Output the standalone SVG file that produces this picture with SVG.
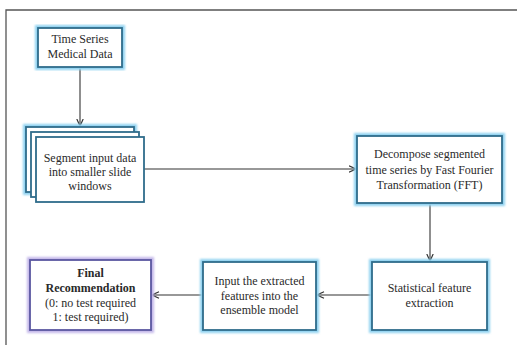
<svg xmlns="http://www.w3.org/2000/svg" width="517" height="345" viewBox="0 0 517 345">
<defs>
<style>
.glow{fill:none;stroke:#8fd2f0;stroke-width:6;filter:url(#soft);}
.glowp{fill:none;stroke:#c4b8ea;stroke-width:6;filter:url(#soft);}
.box{fill:#ffffff;stroke:#2f6c8b;stroke-width:1.8;}
.boxp{fill:#ffffff;stroke:#5a57a0;stroke-width:1.8;}
.t{font-family:"Liberation Serif","Times New Roman","DejaVu Serif",serif;font-size:12px;fill:#2a2a2a;text-anchor:middle;}
.b{font-weight:bold;}
.c{fill:none;stroke:#333;stroke-width:1.1;}
</style>
<filter id="soft" x="-10%" y="-10%" width="120%" height="120%">
<feGaussianBlur stdDeviation="0.9"/>
</filter>
<marker id="ah" viewBox="0 0 8 8" refX="7.5" refY="4" markerWidth="8" markerHeight="8" markerUnits="userSpaceOnUse" orient="auto">
<path d="M0.5,0.8 L7.5,4 L0.5,7.2" fill="none" stroke="#333" stroke-width="1.2"/>
</marker>
</defs>
<rect width="517" height="345" fill="#ffffff"/>
<path d="M6,345 V10 H517" fill="none" stroke="#555" stroke-width="1.3"/>

<g id="connectors">
<line class="c" x1="80" y1="67" x2="80" y2="126" marker-end="url(#ah)"/>
<line class="c" x1="144" y1="169" x2="356" y2="169" marker-end="url(#ah)"/>
<line class="c" x1="430" y1="203" x2="430" y2="261" marker-end="url(#ah)"/>
<line class="c" x1="372" y1="295" x2="317" y2="295" marker-end="url(#ah)"/>
<line class="c" x1="203" y1="295" x2="152" y2="295" marker-end="url(#ah)"/>
</g>

<g id="n-timeseries">
<rect class="glow" x="38" y="28" width="84" height="39"/>
<rect class="box" x="38" y="28" width="84" height="39"/>
<text class="t" x="80" y="43">Time Series</text>
<text class="t" x="80" y="58">Medical Data</text>
</g>

<g id="n-segment">
<rect class="glow" x="26" y="127" width="108" height="65"/>
<rect class="box" x="26" y="127" width="108" height="65"/>
<rect class="box" x="31" y="132" width="108" height="65"/>
<rect class="box" x="36" y="137" width="108" height="65"/>
<text class="t" x="90" y="162">Segment input data</text>
<text class="t" x="90" y="176">into smaller slide</text>
<text class="t" x="90" y="190">windows</text>
</g>

<g id="n-fft">
<rect class="glow" x="357" y="136" width="145" height="67"/>
<rect class="box" x="357" y="136" width="145" height="67"/>
<text class="t" x="429.5" y="158">Decompose segmented</text>
<text class="t" x="429.5" y="174">time series by Fast Fourier</text>
<text class="t" x="429.5" y="189">Transformation (FFT)</text>
</g>

<g id="n-stat">
<rect class="glow" x="372" y="262" width="115" height="68"/>
<rect class="box" x="372" y="262" width="115" height="68"/>
<text class="t" x="429.5" y="292">Statistical feature</text>
<text class="t" x="429.5" y="307">extraction</text>
</g>

<g id="n-input">
<rect class="glow" x="203" y="262" width="113" height="68"/>
<rect class="box" x="203" y="262" width="113" height="68"/>
<text class="t" x="259.5" y="285">Input the extracted</text>
<text class="t" x="259.5" y="300">features into the</text>
<text class="t" x="259.5" y="314">ensemble model</text>
</g>

<g id="n-final">
<rect class="glowp" x="30" y="260" width="121" height="70"/>
<rect class="boxp" x="30" y="260" width="121" height="70"/>
<text class="t b" x="90.5" y="277">Final</text>
<text class="t b" x="90.5" y="292">Recommendation</text>
<text class="t" x="90.5" y="307">(0: no test required</text>
<text class="t" x="90.5" y="321">1: test required)</text>
</g>
</svg>
